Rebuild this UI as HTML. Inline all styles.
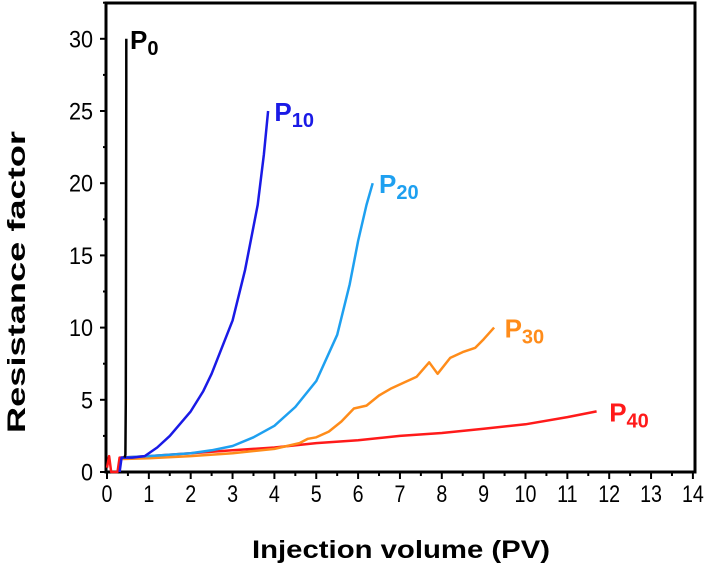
<!DOCTYPE html>
<html><head><meta charset="utf-8"><style>
body{margin:0;background:#fff;}
svg{display:block;font-family:"Liberation Sans",sans-serif;}
</style></head><body>
<svg id="chart" width="708" height="567" viewBox="0 0 708 567" xmlns="http://www.w3.org/2000/svg">
<g id="axes"></g><g id="series"></g><g id="labels"></g>
<text x="401" y="558" text-anchor="middle" font-size="25" font-weight="bold" textLength="298" lengthAdjust="spacingAndGlyphs">Injection volume (PV)</text>
<text transform="translate(25,282) rotate(-90)" text-anchor="middle" font-size="25" font-weight="bold" textLength="302" lengthAdjust="spacingAndGlyphs">Resistance factor</text>
</svg>
<script>
const xTicks=[0,1,2,3,4,5,6,7,8,9,10,11,12,13,14];
const yTicks=[0,5,10,15,20,25,30];
const seriesNames=["P0","P10","P20","P30","P40"];
const seriesColors=["#000000","#1a1ae6","#1ea0f0","#ff8c1a","#ff1a1a"];
const p0X=[0.42,0.44,0.45,0.46,0.46];
const p0Y=[1,1.2,5,27,30];
const p10X=[0.3,0.35,0.6,0.9,1.2,1.5,2,2.3,2.5,3,3.3,3.6,3.75,3.85];
const p10Y=[0,1,1,1.1,1.7,2.5,4.2,5.6,6.8,10.5,14,18.5,22,25];
const p20X=[0.35,1,2,2.5,3,3.5,4,4.5,5,5.5,5.8,6,6.2,6.35];
const p20Y=[1,1.1,1.3,1.5,1.8,2.4,3.2,4.5,6.3,9.5,13,16,18.5,20];
const p30X=[0.35,1,2,3,4,4.6,4.8,5,5.3,5.6,5.9,6.2,6.5,6.8,7.1,7.4,7.7,7.9,8.2,8.5,8.8,9,9.25];
const p30Y=[0.9,0.95,1.1,1.3,1.6,2,2.3,2.4,2.8,3.5,4.4,4.6,5.3,5.8,6.2,6.6,7.6,6.8,7.9,8.3,8.6,9.2,10];
const p40X=[0,0.05,0.1,0.25,0.3,1,2,3,4,5,6,7,8,9,10,11,11.7];
const p40Y=[0.3,1.1,0,0,1,1.1,1.3,1.5,1.7,2,2.2,2.5,2.7,3,3.3,3.8,4.2];
const labelX=[0.55,4.0,6.5,9.5,12.0];
const labelY=[30,25,20,10,4.2];

const X0=107,XW=41.85,Y0=472,YH=14.44;
const sx=v=>X0+v*XW, sy=v=>Y0-v*YH;
const NS="http://www.w3.org/2000/svg";
function mk(t,a,p){const e=document.createElementNS(NS,t);for(const k in a)e.setAttribute(k,a[k]);p.appendChild(e);return e;}
const ax=document.getElementById('axes');
const frame=mk('rect',{x:X0-1,y:3,width:695-X0+1,height:Y0-3,fill:'none',stroke:'#000','stroke-width':3},ax);


xTicks.forEach((t,i)=>{
  const x=sx(t);
  const tk=mk('line',{x1:x,x2:x,y1:Y0,y2:Y0+7,stroke:'#000','stroke-width':2},ax);
  
  
  if(i<xTicks.length-1){mk('line',{x1:sx(t+0.5),x2:sx(t+0.5),y1:Y0,y2:Y0+4,stroke:'#000','stroke-width':2},ax);}
  const l=mk('text',{x:x,y:Y0+30,'text-anchor':'middle','font-size':24,transform:`translate(${x},0) scale(0.82,1) translate(${-x},0)`},ax);
  
  
  l.textContent=t;
});
yTicks.forEach((t,i)=>{
  const y=sy(t);
  const tk=mk('line',{x1:X0-7,x2:X0,y1:y,y2:y,stroke:'#000','stroke-width':2},ax);
  
  
  mk('line',{x1:X0-4,x2:X0,y1:sy(t+2.5),y2:sy(t+2.5),stroke:'#000','stroke-width':2},ax);
  const rx=X0-14;
  const l=mk('text',{x:rx,y:y+8.5,'text-anchor':'end','font-size':24,transform:`translate(${rx},0) scale(0.9,1) translate(${-rx},0)`},ax);
  
  
  l.textContent=t;
});
const sg=document.getElementById('series');
const data=[[p40X,p40Y],[p30X,p30Y],[p20X,p20Y],[p10X,p10Y],[p0X,p0Y]];
const idx=[4,3,2,1,0];
data.forEach((d,j)=>{
  const i=idx[j];
  const pts=d[0].map((x,k)=>sx(x).toFixed(1)+','+sy(d[1][k]).toFixed(1)).join(' ');
  const pl=mk('polyline',{points:pts,fill:'none',stroke:seriesColors[i],'stroke-width':2.5,'stroke-linejoin':'round'},sg);
  
  
});
const lg=document.getElementById('labels');
seriesNames.forEach((n,i)=>{
  const t=mk('text',{x:sx(labelX[i]),y:sy(labelY[i])+10,fill:seriesColors[i],'font-size':26,'font-weight':'bold'},lg);
  
  
  t.textContent='P';
  const s=mk('tspan',{'font-size':20,dy:6},t);
  s.textContent=n.slice(1);
});
</script>
</body></html>
